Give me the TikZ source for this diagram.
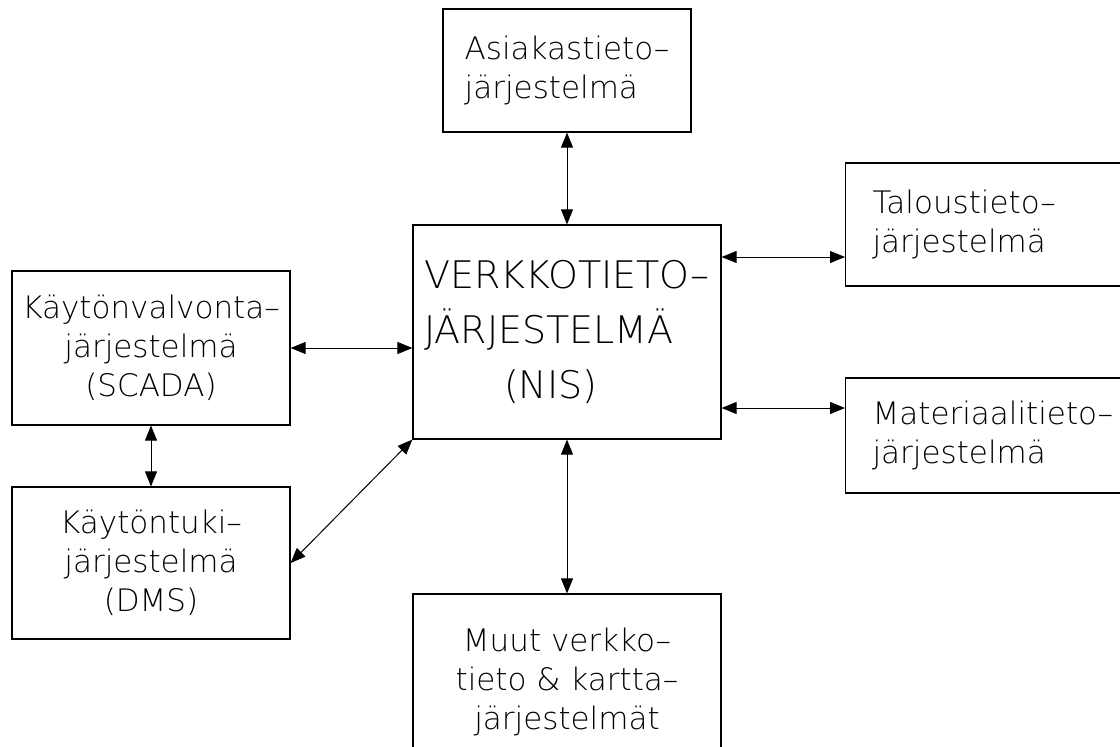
\documentclass[tikz,border=0pt]{standalone}
\usepackage{fontspec}
\IfFontExistsTF{DejaVu Sans ExtraLight}{\setmainfont{DejaVu Sans ExtraLight}}{\setmainfont{DejaVu Sans}}
\usetikzlibrary{arrows.meta}

\begin{document}
\begin{tikzpicture}[x=1pt, y=-1pt,
    box/.style={draw, line width=1.2pt, font=\fontsize{31}{39}\selectfont, align=center},
    link/.style={{Triangle[length=15pt,width=12pt]}-{Triangle[length=15pt,width=12pt]}, line width=1pt}]
    \useasboundingbox (0,0) rectangle (1120,747);
    \clip (0,0) rectangle (1120,747);
    % systems
    \node[box, minimum width=308pt, minimum height=214pt, font=\fontsize{38}{55}\selectfont, align=left] (nis) at (567,332) {VERKKOTIETO--\\JÄRJESTELMÄ\\\hspace*{80pt}(NIS)};
    \node[box, minimum width=248pt, minimum height=123pt, align=left] (asiakas) at (567,70.5) {Asiakastieto--\\järjestelmä};
    \node[box, anchor=west, text width=260pt, inner xsep=27pt, minimum height=123pt, align=left] (talous) at (845,224.5) {Taloustieto--\\järjestelmä};
    \node[box, anchor=west, text width=260pt, inner xsep=27pt, minimum height=115pt, align=left] (materiaali) at (845,435.5) {Materiaalitieto--\\järjestelmä};
    \node[box, minimum width=278pt, minimum height=154pt] (scada) at (151,348) {Käytönvalvonta--\\järjestelmä\\(SCADA)};
    \node[box, minimum width=278pt, minimum height=152pt] (dms) at (151,563) {Käytöntuki--\\järjestelmä\\(DMS)};
    \node[box, minimum width=308pt, minimum height=176pt] (muut) at (567,682) {Muut verkko--\\tieto \& kartta--\\järjestelmät};
    % links
    \draw[link] (asiakas) -- (nis);
    \draw[link] (nis) -- (muut);
    \draw[link] (scada) -- (dms);
    \draw[link] (scada.east) -- (nis.west |- scada.east);
    \draw[link] (nis.east |- 0,257) -- (talous.west |- 0,257);
    \draw[link] (nis.east |- 0,408) -- (materiaali.west |- 0,408);
    \draw[link] (nis.south west) -- (dms.east);
\end{tikzpicture}
\end{document}
